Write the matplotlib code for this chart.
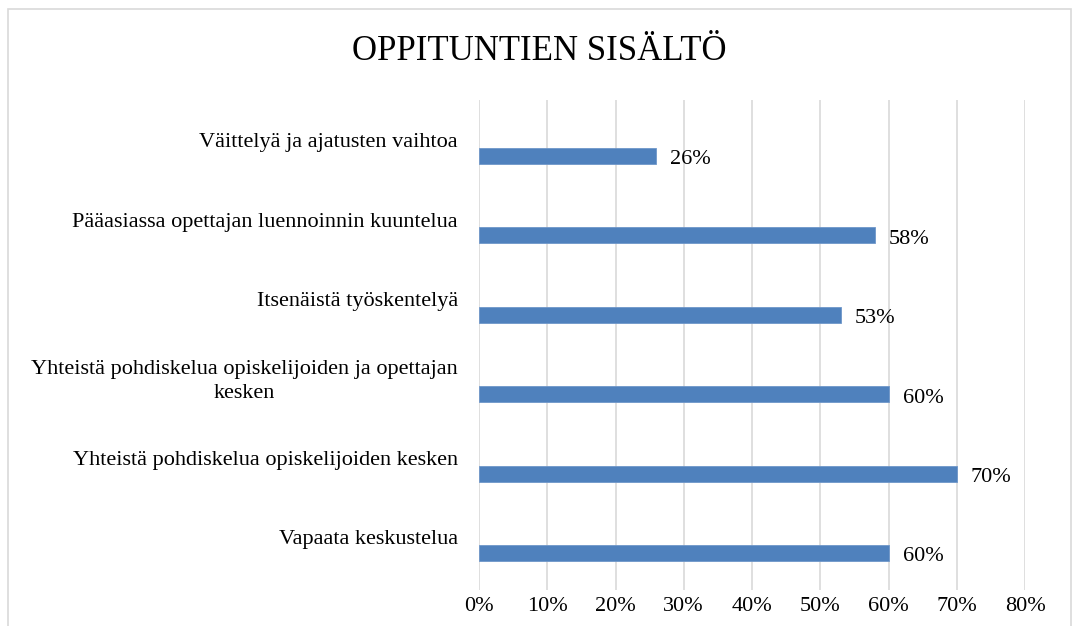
import matplotlib.pyplot as plt
from matplotlib.patches import Rectangle
from matplotlib.ticker import PercentFormatter

plt.rcParams['font.family'] = ['Liberation Serif', 'DejaVu Serif']

# data, bottom to top as drawn
categories = [
    "Vapaata keskustelua",
    "Yhteistä pohdiskelua opiskelijoiden kesken",
    "Yhteistä pohdiskelua opiskelijoiden ja opettajan\nkesken",
    "Itsenäistä työskentelyä",
    "Pääasiassa opettajan luennoinnin kuuntelua",
    "Väittelyä ja ajatusten vaihtoa",
]
values = [0.60, 0.70, 0.60, 0.53, 0.58, 0.26]
value_labels = ["60%", "70%", "60%", "53%", "58%", "26%"]

W, H = 1079, 626
fig = plt.figure(figsize=(W / 100, H / 100), dpi=100)

# plot area in pixels
left, right, top, bottom = 479, 1025, 100, 590
ax = fig.add_axes([left / W, 1 - bottom / H, (right - left) / W, (bottom - top) / H])

bar_color = '#4F81BD'
pos = list(range(len(categories)))
ax.barh(pos, values, height=0.2, color=bar_color, edgecolor='#6F97C9', linewidth=0.6, zorder=3)

ax.set_xlim(0, 0.8)
ax.set_ylim(-0.466, 5.705)
ax.set_xticks([i / 10 for i in range(9)])
ax.xaxis.set_major_formatter(PercentFormatter(1.0, decimals=0))
ax.tick_params(axis='x', length=0, pad=5, labelsize=16)
ax.set_yticks([])
ax.grid(axis='x', color='#D9D9D9', linewidth=1.2, zorder=0)
for s in ax.spines.values():
    s.set_visible(False)

# category labels sit above-left of each bar
for y, lab in zip(pos, categories):
    ax.annotate(lab, xy=(0, y), xycoords=('axes fraction', 'data'),
                xytext=(-21, 13), textcoords='offset pixels',
                ha='right', va='center', multialignment='center',
                fontsize=16, linespacing=1.35)

# value labels
for y, v, lab in zip(pos, values, value_labels):
    ax.annotate(lab, xy=(v, y), xytext=(14, -4), textcoords='offset pixels',
                ha='left', va='center', fontsize=16)

fig.text(0.5, 1 - 52 / H, "OPPITUNTIEN SISÄLTÖ", ha='center', va='center', fontsize=25)

# chart frame
fig.patches.append(Rectangle((8 / W, -0.05), (1071 - 8) / W, 1.05 - 9 / H,
                             transform=fig.transFigure, fill=False,
                             edgecolor='#D9D9D9', linewidth=1.2))

fig.savefig('out.png', dpi=100, facecolor='white')
